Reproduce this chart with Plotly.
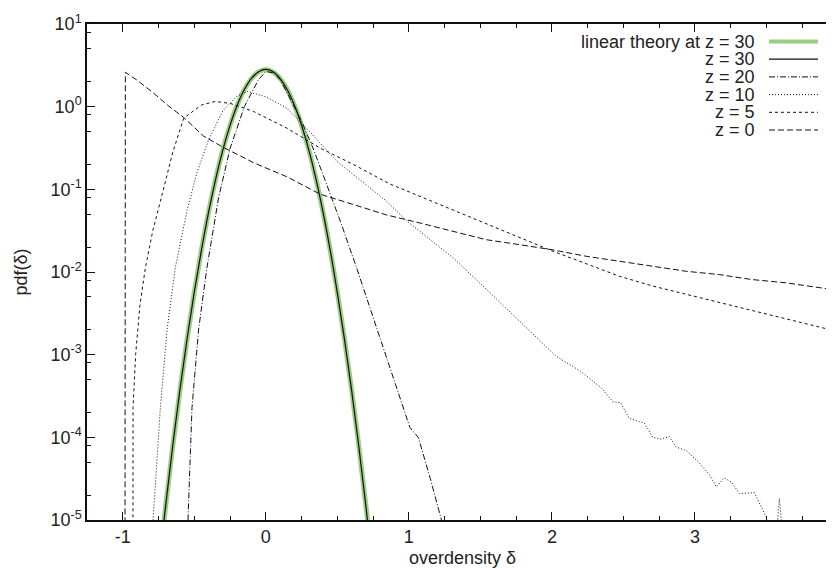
import plotly.graph_objects as go

# ---------------- data ----------------
lin_x = [-0.75, -0.70, -0.65, -0.60, -0.55, -0.50, -0.45, -0.40, -0.35, -0.30, -0.25, -0.20, -0.15, -0.10, -0.05,
         0.0, 0.05, 0.10, 0.15, 0.20, 0.25, 0.30, 0.35, 0.40, 0.45, 0.50, 0.55, 0.60, 0.65, 0.70, 0.75]
lin_y = [2.45e-6, 1.481e-5, 7.90e-5, 3.725e-4, 1.551e-3, 5.70e-3, 0.01851, 0.0531, 0.1346, 0.3014, 0.596, 1.042,
         1.608, 2.192, 2.640, 2.809, 2.640, 2.192, 1.608, 1.042, 0.596, 0.3014, 0.1346, 0.0531, 0.01851,
         5.70e-3, 1.551e-3, 3.725e-4, 7.90e-5, 1.481e-5, 2.45e-6]

z30_x = lin_x
z30_y = [2.6e-6, 1.5e-5, 8.1e-5, 3.8e-4, 1.57e-3, 5.7e-3, 0.0184, 0.053, 0.134, 0.300, 0.594, 1.04, 1.61, 2.20,
         2.65, 2.82, 2.65, 2.19, 1.60, 1.04, 0.597, 0.302, 0.135, 0.053, 0.0184, 5.6e-3, 1.53e-3, 3.7e-4, 7.8e-5,
         1.45e-5, 2.4e-6]

z20_x = [-0.56, -0.544, -0.516, -0.47, -0.412, -0.33, -0.249, -0.15, -0.05, 0.0, 0.05, 0.10, 0.24, 0.33, 0.426,
         0.53, 0.635, 0.80, 0.961, 1.007, 1.066, 1.15, 1.228, 1.26]
z20_y = [1e-7, 1e-5, 2.29e-4, 2.0e-3, 0.0112, 0.0794, 0.316, 1.0, 2.14, 2.66, 2.57, 2.14, 0.726, 0.316, 0.114,
         0.0372, 0.0112, 0.00158, 2.29e-4, 1.32e-4, 1.0e-4, 3.16e-5, 1.0e-5, 5e-6]

z10_x = [-0.80, -0.79, -0.737, -0.69, -0.633, -0.55, -0.482, -0.40, -0.30, -0.20, -0.13, -0.05, 0.0, 0.147, 0.263,
         0.496, 0.845, 0.984, 1.31, 1.50, 1.75, 2.03, 2.20, 2.345, 2.426, 2.48, 2.54, 2.647, 2.705, 2.76, 2.82,
         2.87, 2.94, 3.03, 3.10, 3.15, 3.205, 3.26, 3.31, 3.415, 3.50, 3.52, 3.555, 3.59, 3.63, 3.66]
z10_y = [1e-7, 9e-6, 2.29e-4, 2.0e-3, 0.0112, 0.0562, 0.158, 0.398, 0.891, 1.349, 1.528, 1.413, 1.318, 0.959,
         0.603, 0.219, 0.0716, 0.0417, 0.0148, 0.00724, 0.00282, 9.55e-4, 6.31e-4, 3.98e-4, 2.69e-4, 2.63e-4,
         1.70e-4, 1.48e-4, 1.0e-4, 9.55e-5, 1.02e-4, 7.59e-5, 6.92e-5, 4.90e-5, 3.55e-5, 2.51e-5, 3.24e-5,
         2.82e-5, 2.09e-5, 2.14e-5, 1.07e-5, 3e-6, 3e-6, 1.82e-5, 3e-6, 1e-6]

z5_x = [-0.93, -0.928, -0.91, -0.88, -0.842, -0.79, -0.737, -0.65, -0.574, -0.45, -0.354, -0.25, -0.086, 0.147,
        0.379, 0.612, 0.868, 1.20, 1.54, 2.008, 2.24, 2.47, 2.705, 2.94, 3.17, 3.40, 3.636, 3.80, 3.96, 4.0]
z5_y = [1e-7, 2.29e-4, 1e-3, 3.98e-3, 0.0112, 0.0316, 0.0716, 0.282, 0.726, 1.047, 1.156, 1.096, 0.875, 0.550,
        0.316, 0.200, 0.116, 0.0676, 0.0389, 0.0178, 0.0126, 0.0089, 0.00676, 0.00537, 0.00427, 0.00339,
        0.00266, 0.00229, 0.00195, 0.0019]

z0_x = [-0.985, -0.982, -0.90, -0.784, -0.68, -0.574, -0.435, -0.295, -0.15, -0.086, 0.147, 0.379, 0.612, 0.844,
        1.077, 1.31, 1.54, 1.775, 2.0, 2.24, 2.47, 2.705, 2.94, 3.17, 3.40, 3.636, 3.96, 4.0]
z0_y = [1e-7, 2.61, 2.09, 1.455, 1.02, 0.74, 0.44, 0.32, 0.24, 0.21, 0.142, 0.0875, 0.0655, 0.049, 0.0392,
        0.0311, 0.0246, 0.0214, 0.0186, 0.0155, 0.0135, 0.0117, 0.0102, 0.0093, 0.0081, 0.0074, 0.0062, 0.0060]

legend_labels = ["linear theory at z = 30", "z = 30", "z = 20", "z = 10", "z = 5", "z = 0"]
x_ticks = [-1, 0, 1, 2, 3, 4]
y_tick_exps = [1, 0, -1, -2, -3, -4, -5]

# ---------------- styles ----------------
GREEN = "#9ccf84"
INK = "#111111"
TXT = "#222222"
FONT = "Liberation Sans, Arial, Helvetica, sans-serif"
FS = 18
styles = [
    dict(color=GREEN, width=5, dash="solid"),
    dict(color=INK, width=1.2, dash="solid"),
    dict(color=INK, width=1, dash="6px,2px,1px,2px"),
    dict(color=INK, width=1, dash="1px,2px"),
    dict(color=INK, width=1, dash="3px,3px"),
    dict(color=INK, width=1, dash="6px,3px"),
]
series = [(lin_x, lin_y), (z30_x, z30_y), (z20_x, z20_y), (z10_x, z10_y), (z5_x, z5_y), (z0_x, z0_y)]

fig = go.Figure()
for i, ((xs, ys), st, name) in enumerate(zip(series, styles, legend_labels)):
    fig.add_trace(go.Scatter(x=xs, y=ys, mode="lines", name=name, line=st, showlegend=False,
                             line_shape="spline" if i < 2 else "linear"))

# manual legend (text left, sample right, as in gnuplot)
L, R, T, B = 79, 830, 16, 512
W, H = 834, 568
pw, ph = R - L, B - T
def px(x): return (x - L) / pw
def py(y): return 1 - (y - T) / ph
row0, dy = 33.5, 17.7
for i, (name, st) in enumerate(zip(legend_labels, styles)):
    yy = row0 + i * dy
    fig.add_annotation(x=px(749), y=py(yy), xref="paper", yref="paper", text=name, showarrow=False,
                       xanchor="right", yanchor="middle", font=dict(family=FONT, size=FS, color=TXT))
    fig.add_shape(type="line", xref="paper", yref="paper", x0=px(761), x1=px(810), y0=py(yy), y1=py(yy),
                  line=dict(color=st["color"], width=min(st["width"], 4), dash=st["dash"]))

# last x tick label sits on the figure edge (cut, as in the reference)
fig.add_annotation(x=x_ticks[-1], y=py(530), xref="x", yref="paper", text=str(x_ticks[-1]), showarrow=False,
                   xanchor="center", yanchor="middle", font=dict(family=FONT, size=FS, color=TXT))

minor_y = []
for e in range(-5, 1):
    for m in (2, 5, 8):
        minor_y.append(m * 10 ** e)

fig.update_layout(
    width=W, height=H,
    margin=dict(l=L, r=W - R, t=T, b=H - B),
    paper_bgcolor="white", plot_bgcolor="white",
    font=dict(family=FONT, size=FS, color=TXT),
    showlegend=False,
)
fig.update_xaxes(
    range=[-1.25, 4], tickvals=x_ticks, ticktext=[str(t) for t in x_ticks[:-1]] + [""],
    ticks="inside", ticklen=8, tickwidth=1, tickcolor=INK,
    showline=True, linecolor=INK, linewidth=1.5, mirror="allticks",
    showgrid=False, zeroline=False, automargin=False,
    minor=dict(dtick=0.25, tick0=0, ticks="inside", ticklen=4, tickcolor=INK, showgrid=False),
    title=dict(text="overdensity δ", font=dict(size=FS, color=TXT), standoff=5),
    tickfont=dict(size=FS, color=TXT),
)
fig.update_yaxes(
    type="log", range=[-5, 1],
    tickvals=[10 ** e for e in y_tick_exps],
    ticktext=["10<sup>%d</sup>" % e for e in y_tick_exps],
    ticks="inside", ticklen=8, tickwidth=1, tickcolor=INK,
    showline=True, linecolor=INK, linewidth=1.5, mirror="allticks",
    showgrid=False, zeroline=False, automargin=False,
    minor=dict(tickvals=minor_y, ticks="inside", ticklen=4, tickcolor=INK, showgrid=False),
    title=dict(text="pdf(δ)", font=dict(size=FS, color=TXT), standoff=18),
    tickfont=dict(size=FS, color=TXT),
)

fig.write_html("out.html")
